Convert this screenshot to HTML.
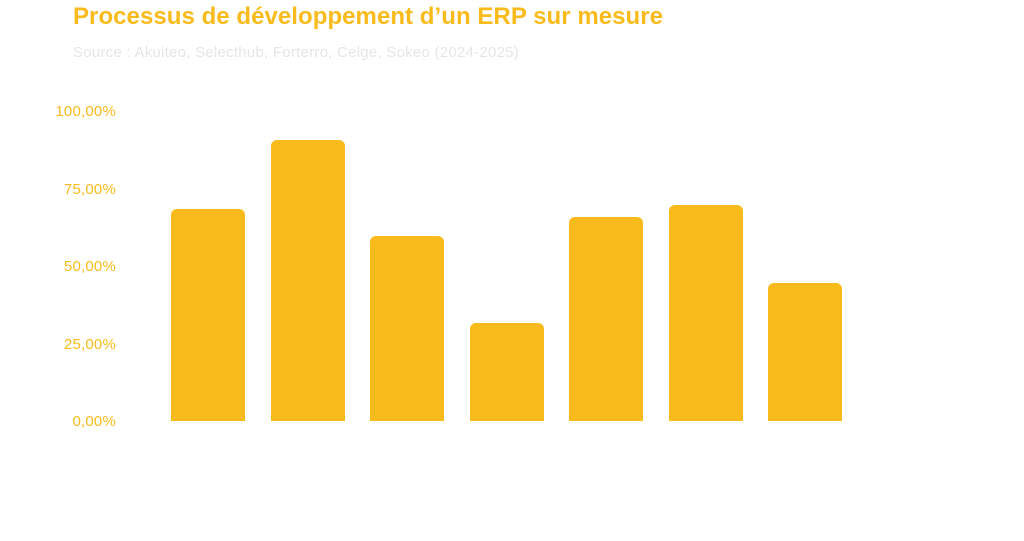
<!DOCTYPE html>
<html><head><meta charset="utf-8"><style>
body{margin:0;width:1024px;height:541px;background:#fff;overflow:hidden;font-family:"Liberation Sans",sans-serif;position:relative}
.t{position:absolute;left:73px;top:3px;font-size:24px;font-weight:bold;color:#f9bb1c;white-space:nowrap;letter-spacing:0.05px}
.s{position:absolute;left:73px;top:44px;font-size:15px;color:#e6e6e6;white-space:nowrap;letter-spacing:0.25px}
.y{position:absolute;right:908px;font-size:15px;color:#f9bb1c;white-space:nowrap;letter-spacing:0.2px}
.b{position:absolute;width:74px;background:#f9bb1c;border-radius:6px 6px 0 0;bottom:120px}
</style></head><body>
<div class="t">Processus de développement d’un ERP sur mesure</div>
<div class="s">Source : Akuiteo, Selecthub, Forterro, Celge, Sokeo (2024-2025)</div>
<div class="y" style="top:103px">100,00%</div>
<div class="y" style="top:181px">75,00%</div>
<div class="y" style="top:258px">50,00%</div>
<div class="y" style="top:336px">25,00%</div>
<div class="y" style="top:413px">0,00%</div>
<div class="b" style="left:171px;top:209px"></div>
<div class="b" style="left:271px;top:140px"></div>
<div class="b" style="left:370px;top:236px"></div>
<div class="b" style="left:470px;top:323px"></div>
<div class="b" style="left:569px;top:217px"></div>
<div class="b" style="left:669px;top:205px"></div>
<div class="b" style="left:768px;top:283px"></div>
</body></html>
